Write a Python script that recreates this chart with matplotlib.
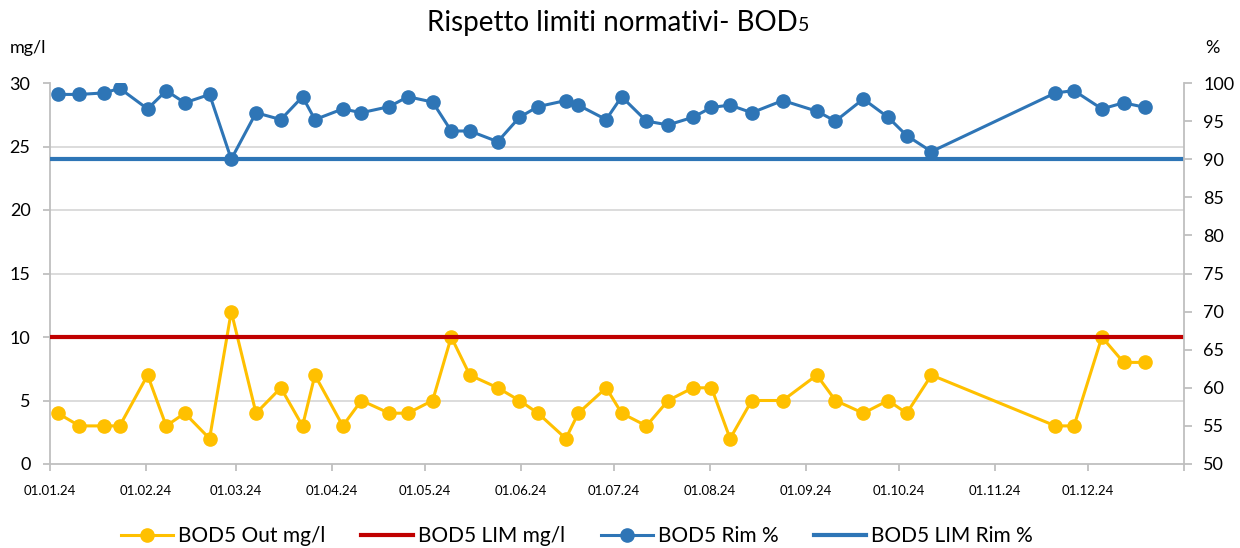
import matplotlib
matplotlib.use("Agg")
import matplotlib.pyplot as plt
import pandas as pd

dates = ["2024-01-03", "2024-01-10", "2024-01-18", "2024-01-23", "2024-02-01",
         "2024-02-07", "2024-02-13", "2024-02-21", "2024-02-28", "2024-03-07",
         "2024-03-15", "2024-03-22", "2024-03-26", "2024-04-04", "2024-04-10",
         "2024-04-19", "2024-04-25", "2024-05-03", "2024-05-09", "2024-05-15",
         "2024-05-24", "2024-05-31", "2024-06-06", "2024-06-15", "2024-06-19",
         "2024-06-28", "2024-07-03", "2024-07-11", "2024-07-18", "2024-07-26",
         "2024-08-01", "2024-08-07", "2024-08-14", "2024-08-24", "2024-09-04",
         "2024-09-10", "2024-09-19", "2024-09-27", "2024-10-03", "2024-10-11",
         "2024-11-20", "2024-11-26", "2024-12-05", "2024-12-12", "2024-12-19"]

bod5_out = [4, 3, 3, 3, 7, 3, 4, 2, 12, 4,
            6, 3, 7, 3, 5, 4, 4, 5, 10, 7,
            6, 5, 4, 2, 4, 6, 4, 3, 5, 6,
            6, 2, 5, 5, 7, 5, 4, 5, 4, 7,
            3, 3, 10, 8, 8]

bod5_rim = [98.5, 98.5, 98.7, 99.3, 96.6, 99.0, 97.4, 98.5, 90.0, 96.1,
            95.2, 98.2, 95.2, 96.6, 96.1, 96.9, 98.2, 97.5, 93.7, 93.7,
            92.3, 95.5, 96.9, 97.7, 97.1, 95.2, 98.2, 95.0, 94.5, 95.5,
            96.8, 97.1, 96.1, 97.7, 96.3, 95.0, 97.9, 95.5, 93.1, 91.0,
            98.7, 99.0, 96.6, 97.4, 96.8]

lim_mg = 10
lim_rim = 90

x_tick_dates = ["2024-01-01", "2024-02-01", "2024-03-01", "2024-04-01", "2024-05-01",
                "2024-06-01", "2024-07-01", "2024-08-01", "2024-09-01", "2024-10-01",
                "2024-11-01", "2024-12-01", "2025-01-01"]
x_tick_labels = ["01.01.24", "01.02.24", "01.03.24", "01.04.24", "01.05.24", "01.06.24",
                 "01.07.24", "01.08.24", "01.09.24", "01.10.24", "01.11.24", "01.12.24", ""]
left_ticks = [0, 5, 10, 15, 20, 25, 30]
right_ticks = [50, 55, 60, 65, 70, 75, 80, 85, 90, 95, 100]

plt.rcParams['font.family'] = ['Lato', 'DejaVu Sans']

YEL = '#FFC000'
RED = '#C00000'
BLUE = '#2E75B6'
GRID = '#D9D9D9'
SPINE = '#BFBFBF'
TXT = '#000000'

x = pd.to_datetime(dates) + pd.Timedelta(hours=12)

fig = plt.figure(figsize=(12.4, 5.48), dpi=100)
ax = fig.add_axes([50/1240, 1-464/548, (1184-50)/1240, (464-83)/548])
ax2 = ax.twinx()

for g in left_ticks[1:-1]:
    ax.axhline(g, color=GRID, lw=1.3, zorder=0)

l1, = ax.plot(x, bod5_out, color=YEL, lw=2.2, marker='o', ms=9.5, zorder=3,
              label='BOD5 Out mg/l')
l2 = ax.axhline(lim_mg, color=RED, lw=3, zorder=4, label='BOD5 LIM mg/l')
l3, = ax2.plot(x, bod5_rim, color=BLUE, lw=2.2, marker='o', ms=9.5, zorder=3,
               label='BOD5 Rim %')
l4 = ax2.axhline(lim_rim, color=BLUE, lw=3, zorder=2, label='BOD5 LIM Rim %')

ax.set_xlim(pd.Timestamp("2024-01-01"), pd.Timestamp("2025-01-01"))
ax.set_ylim(0, 30)
ax2.set_ylim(50, 100)

ax.set_xticks(pd.to_datetime(x_tick_dates))
ax.set_xticklabels(x_tick_labels, fontsize=9.5)
ax.set_yticks(left_ticks)
ax.set_yticklabels([str(v) for v in left_ticks], fontsize=13)
ax2.set_yticks(right_ticks)
ax2.set_yticklabels([str(v) for v in right_ticks], fontsize=13)

for a in (ax, ax2):
    for s in a.spines.values():
        s.set_visible(False)
for sp in (ax.spines['left'], ax.spines['bottom'], ax2.spines['right']):
    sp.set_visible(True)
    sp.set_color(SPINE)
    sp.set_linewidth(1.3)

ax.tick_params(axis='x', length=5, width=1.3, color=SPINE, pad=10, labelcolor=TXT)
ax.tick_params(axis='y', length=5, width=1.3, color=SPINE, pad=9, labelcolor=TXT)
ax2.tick_params(axis='y', length=6, width=1.3, color=SPINE, pad=8, labelcolor=TXT)

# Title: main text + smaller "5" on the same baseline
title_main = "Rispetto limiti normativi- BOD"
title_sub = "5"
ty = 1 - 31/548
t1 = fig.text(0, ty, title_main, ha='left', va='baseline', fontsize=20, color=TXT)
t2 = fig.text(0, ty, title_sub, ha='left', va='baseline', fontsize=14, color=TXT)
fig.canvas.draw()
r = fig.canvas.get_renderer()
w1 = t1.get_window_extent(r).width
w2 = t2.get_window_extent(r).width
W = fig.bbox.width
start = (618 - (w1 + w2) / 2) / W
t1.set_x(start)
t2.set_x(start + w1 / W)

fig.text(10/1240, 1-48/548, "mg/l", ha='left', va='center', fontsize=13, color=TXT)
fig.text(1205/1240, 1-48/548, "%", ha='left', va='center', fontsize=13, color=TXT)

fig.legend(handles=[l1, l2, l3, l4], loc='center', bbox_to_anchor=(577/1240, 1-536/548),
           ncol=4, frameon=False, fontsize=15, handlelength=2.5, handletextpad=0.25,
           columnspacing=1.7, markerscale=1.0)

fig.savefig("out.png", dpi=100)
